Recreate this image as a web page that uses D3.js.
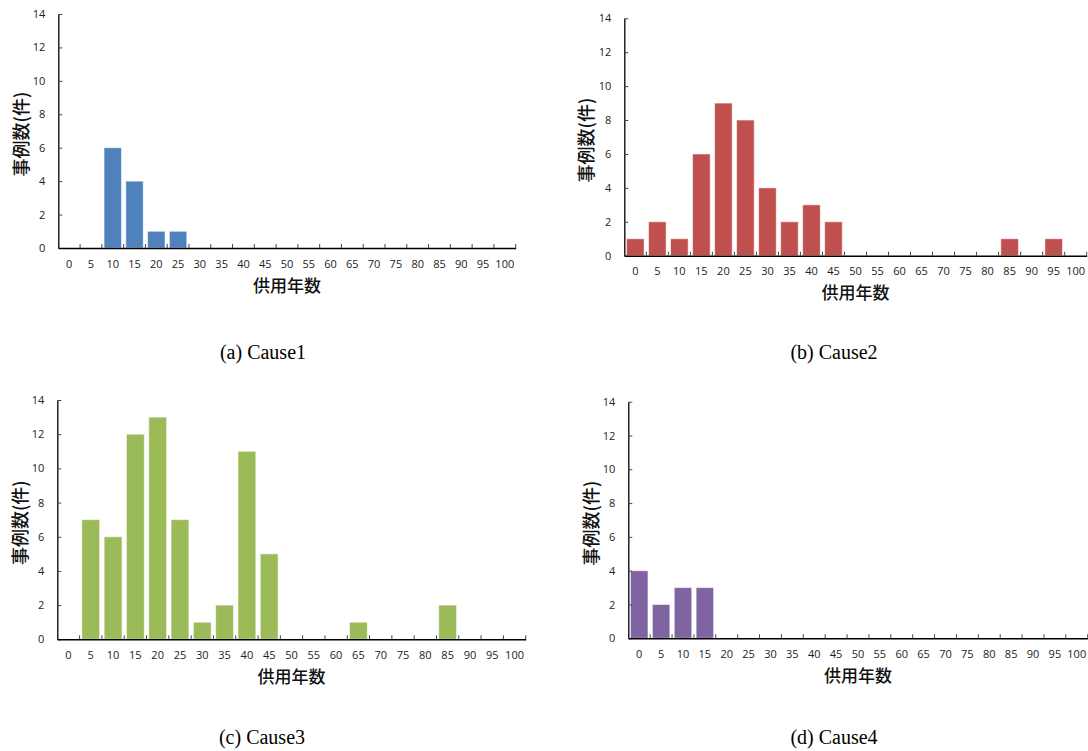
<!DOCTYPE html>
<html>
<head>
<meta charset="utf-8">
<script src="https://cdn.jsdelivr.net/npm/d3@7"></script>
<style>
  html, body { margin: 0; padding: 0; background: #fff; }
  svg { display: block; }
</style>
</head>
<body>
<svg id="chart" width="1088" height="751"></svg>
<script>
// Service-age bins (years)
const categories = [0, 5, 10, 15, 20, 25, 30, 35, 40, 45, 50, 55, 60, 65, 70, 75, 80, 85, 90, 95, 100];
const yTicks = [0, 2, 4, 6, 8, 10, 12, 14];

// Case counts per bin for each cause
const cause1 = [0, 0, 6, 4, 1, 1, 0, 0, 0, 0, 0, 0, 0, 0, 0, 0, 0, 0, 0, 0, 0];
const cause2 = [1, 2, 1, 6, 9, 8, 4, 2, 3, 2, 0, 0, 0, 0, 0, 0, 0, 1, 0, 1, 0];
const cause3 = [0, 7, 6, 12, 13, 7, 1, 2, 11, 5, 0, 0, 0, 1, 0, 0, 0, 2, 0, 0, 0];
const cause4 = [4, 2, 3, 3, 0, 0, 0, 0, 0, 0, 0, 0, 0, 0, 0, 0, 0, 0, 0, 0, 0];

const captions = ["(a) Cause1", "(b) Cause2", "(c) Cause3", "(d) Cause4"];
const xTitle = "供用年数";
const yTitle = "事例数(件)";

// Panel frames and colours
const panels = [
  { values: cause1, color: "#4F81BD", left: 58.3, right: 515.7, top: 14, bottom: 248, xTitleY: 286, yTitleX: 21.7, capX: 263, capY: 352 },
  { values: cause2, color: "#C0504D", left: 624.3, right: 1086.7, top: 18.3, bottom: 255.7, xTitleY: 293, yTitleX: 586.7, capX: 834, capY: 352 },
  { values: cause3, color: "#9BBB59", left: 57.3, right: 525.7, top: 400, bottom: 639.3, xTitleY: 677, yTitleX: 21, capX: 262, capY: 737 },
  { values: cause4, color: "#8064A2", left: 628.3, right: 1087.7, top: 401.7, bottom: 638.3, xTitleY: 676, yTitleX: 591.7, capX: 834, capY: 737 }
];

const svg = d3.select("#chart");
const tickFont = "'Open Sans', 'DejaVu Sans', sans-serif";
const cjkFont = "'Noto Sans CJK JP', 'Noto Sans CJK SC', sans-serif";

panels.forEach((p, i) => {
  const g = svg.append("g");
  const x = d3.scaleBand().domain(categories).range([p.left, p.right]).padding(0);
  const y = d3.scaleLinear().domain([0, 14]).range([p.bottom, p.top]);
  const bw = x.bandwidth();
  const data = categories.map((c, k) => ({ c, v: p.values[k] }));

  // bars
  g.append("g").selectAll("rect")
    .data(data.filter(d => d.v > 0))
    .join("rect")
    .attr("x", d => x(d.c) + bw * 0.1)
    .attr("width", bw * 0.8)
    .attr("y", d => y(d.v))
    .attr("height", d => y(0) - y(d.v))
    .attr("fill", p.color)
    .attr("stroke", "#ffffff")
    .attr("stroke-opacity", 0.55)
    .attr("stroke-width", 1);

  // y axis, ticks pointing inward
  const yAxis = g.append("g")
    .attr("transform", `translate(${p.left},0)`)
    .call(d3.axisLeft(y).tickValues(yTicks).tickSize(-4).tickPadding(13).tickSizeOuter(0));
  yAxis.select(".domain").attr("stroke", "#000").attr("stroke-width", 1.3);
  yAxis.selectAll(".tick line").attr("stroke", "#444");
  yAxis.selectAll("text").attr("font-family", tickFont).attr("font-size", 11).attr("fill", "#222");

  // x axis with labels centred in each bin
  const xAxis = g.append("g")
    .attr("transform", `translate(0,${p.bottom})`)
    .call(d3.axisBottom(x).tickSize(0).tickPadding(12).tickSizeOuter(0));
  xAxis.select(".domain").attr("stroke", "#000").attr("stroke-width", 1.5);
  xAxis.selectAll("text").attr("font-family", tickFont).attr("font-size", 11).attr("fill", "#222");

  // tick marks on bin boundaries, pointing up
  const bounds = categories.map(c => x(c) + bw);
  g.append("g").selectAll("line")
    .data(bounds)
    .join("line")
    .attr("x1", d => d).attr("x2", d => d)
    .attr("y1", p.bottom).attr("y2", p.bottom - 4)
    .attr("stroke", "#444").attr("stroke-width", 1);

  // axis titles
  g.append("text")
    .attr("x", (p.left + p.right) / 2)
    .attr("y", p.xTitleY)
    .attr("dy", "0.35em")
    .attr("text-anchor", "middle")
    .attr("font-family", cjkFont)
    .attr("font-size", 17)
    .attr("font-weight", 500)
    .attr("fill", "#111")
    .text(xTitle);

  const yc = (p.top + p.bottom) / 2 + 3;
  g.append("text")
    .attr("transform", `translate(${p.yTitleX},${yc}) rotate(-90)`)
    .attr("dy", "0.35em")
    .attr("text-anchor", "middle")
    .attr("font-family", cjkFont)
    .attr("font-size", 18)
    .attr("font-weight", 500)
    .attr("fill", "#111")
    .text(yTitle);

  // caption
  svg.append("text")
    .attr("x", p.capX)
    .attr("y", p.capY)
    .attr("dy", "0.35em")
    .attr("text-anchor", "middle")
    .attr("font-family", "'Liberation Serif', 'Times New Roman', serif")
    .attr("font-size", 20)
    .attr("fill", "#000")
    .text(captions[i]);
});
</script>
</body>
</html>
